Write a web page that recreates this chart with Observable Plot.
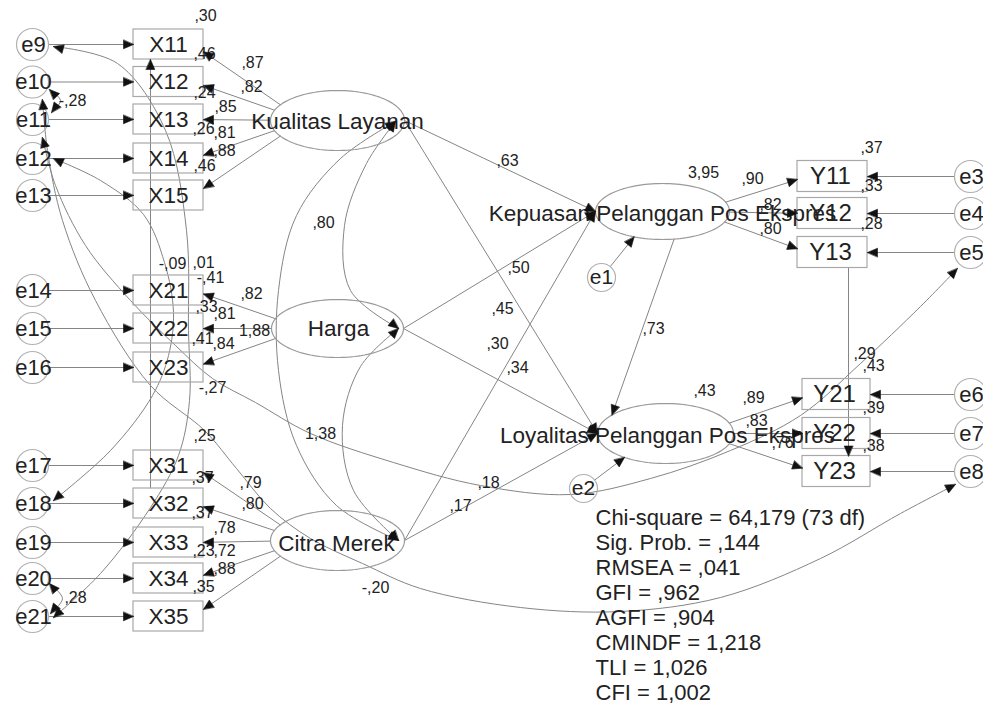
<!DOCTYPE html>
<html>
<head>
<meta charset="utf-8">
<script src="https://cdn.jsdelivr.net/npm/d3@7"></script>
<script src="https://cdn.jsdelivr.net/npm/@observablehq/plot@0.6"></script>
<style>
  html, body { margin: 0; padding: 0; background: #fff; }
  #chart svg { display: block; }
</style>
</head>
<body>
<div id="chart"></div>
<script>
// ================= DATA (values and labels) =================
const latentNames = ["Kualitas Layanan", "Harga", "Citra Merek",
  "Kepuasan Pelanggan Pos Ekspres", "Loyalitas Pelanggan Pos Ekspres"];
const klIndicators = ["X11", "X12", "X13", "X14", "X15"];
const hargaIndicators = ["X21", "X22", "X23"];
const citraIndicators = ["X31", "X32", "X33", "X34", "X35"];
const kepIndicators = ["Y11", "Y12", "Y13"];
const loyIndicators = ["Y21", "Y22", "Y23"];
const klErrors = ["e9", "e10", "e11", "e12", "e13"];
const hargaErrors = ["e14", "e15", "e16"];
const citraErrors = ["e17", "e18", "e19", "e20", "e21"];
const kepErrors = ["e3", "e4", "e5"];
const loyErrors = ["e6", "e7", "e8"];
const disturbances = ["e1", "e2"];

const klLoadings = [",87", ",82", ",85", ",81", ",88"];
const klR2 = [",30", ",46", ",24", ",26", ",46"];
const hargaLoadings = [",82", ",81", ",84"];
const hargaR2 = ["-,41", ",33", ",41"];
const citraLoadings = [",79", ",80", ",78", ",72", ",88"];
const citraR2 = [",37", ",37", ",23", ",35"];
const kepLoadings = [",90", ",82", ",80"];
const kepR2 = [",37", ",33", ",28"];
const loyLoadings = [",89", ",83", ",76"];
const loyR2 = [",43", ",39", ",38"];
const latentR2 = ["3,95", ",43"];
// KL→Kep, Harga→Kep, KL→Loy, Harga→Loy, Citra→Kep, Citra→Loy, Kep→Loy
const structuralCoefs = [",63", ",50", ",45", ",30", ",34", ",17", ",73"];
const otherCoefs = [",80", "1,38", "-,28", ",28", "-,09", ",01", "1,88", "-,27", ",25", "-,20", ",18", ",29"];
const fitStats = [
  "Chi-square = 64,179 (73 df)",
  "Sig. Prob. = ,144",
  "RMSEA = ,041",
  "GFI = ,962",
  "AGFI = ,904",
  "CMINDF = 1,218",
  "TLI = 1,026",
  "CFI = 1,002"
];

// ================= LAYOUT (positions / sizes / styles) =================
const layout = {
  width: 983, height: 706,
  xBox: {cx: 168, w: 70, h: 30},
  xBoxY: [[44, 81.5, 119, 158, 195], [290, 328, 367], [465, 503, 542, 578, 616]],
  errLeft: {cx: 32, r: 16},
  yBox: [{cx: 832, w: 70, h: 31, ys: [176, 213, 252]}, {cx: 836, w: 68, h: 31, ys: [394, 433, 471]}],
  errRight: {cx: 970, r: 16},
  latents: [
    {cx: 337, cy: 120, rx: 67, ry: 30, tx: 337, ty: 121},
    {cx: 337, cy: 328, rx: 66, ry: 29, tx: 338, ty: 328},
    {cx: 337, cy: 540, rx: 67, ry: 30, tx: 336, ty: 543},
    {cx: 662, cy: 211, rx: 67, ry: 28, tx: 662, ty: 213},
    {cx: 665, cy: 433, rx: 68, ry: 30, tx: 667, ty: 435}
  ],
  dist: [{x: 601, y: 277, r: 14}, {x: 583, y: 488, r: 14}],
  distTipAngle: [115, 127],
  structural: [[0, 3], [1, 3], [0, 4], [1, 4], [2, 3], [2, 4], [3, 4]],
  kepLoyAngles: [80, -142],
  klLoadPos: [[252, 62], [251, 86], [225, 106], [224, 132], [224, 150]],
  klR2Pos: [[205, 15], [204, 53], [204, 92], [203, 128], [204, 165]],
  hargaLoadPos: [[251, 293], [224, 313], [223, 343]],
  hargaR2Pos: [[210, 277], [206, 306], [202, 338]],
  citraLoadPos: [[250, 482], [252, 503], [224, 527], [224, 550], [224, 568]],
  citraR2Pos: [[202, 477], [202, 512], [203, 550], [203, 586]],
  kepLoadPos: [[752, 178], [770, 204], [770, 228]],
  kepR2Pos: [[871, 147], [871, 185], [871, 223]],
  loyLoadPos: [[753, 397], [756, 420], [782, 442]],
  loyR2Pos: [[873, 365], [873, 407], [873, 445]],
  latentR2Pos: [[703, 172], [704, 390]],
  structPos: [[507, 160], [518, 267], [502, 308], [497, 343], [517, 367], [460, 505], [653, 328]],
  otherPos: [[323, 222], [320, 433], [72, 100], [75, 597], [172, 263], [203, 262], [254, 330],
             [212, 387], [204, 435], [375, 587], [488, 482], [864, 353]],
  statsX: 595, statsY0: 517, statsDy: 25,
  // covariance path waypoints
  covPaths: [
    [[395, 121], [366, 163], [344, 225], [350, 290], [398, 328]],                       // KL-Harga
    [[395, 121], [340, 158], [296, 215], [278, 290], [278, 370], [296, 445], [336, 505], [398, 540]], // KL-Citra
    [[398, 328], [360, 366], [342, 425], [353, 490], [398, 540]],                       // Harga-Citra
    [[49, 89], [60, 100], [51, 112]],                                                   // e10-e11
    [[49, 583], [62, 598], [50, 613]],                                                  // e20-e21
    [[42, 99], [47, 150], [62, 220], [95, 300], [150, 385], [204, 430], [236, 468], [270, 508], [310, 538],
     [362, 563], [420, 588], [520, 607], [620, 611], [720, 597], [820, 558], [900, 513], [955, 484]], // e10-e8
    [[42, 137], [55, 185], [85, 245], [130, 300], [175, 345], [212, 378], [255, 402], [310, 433], [393, 462],
     [480, 485], [570, 494], [650, 478], [730, 450], [800, 415], [860, 363], [920, 306], [957, 268]], // e11-e5
    [[53, 158], [100, 180], [143, 214], [164, 262], [173, 312], [168, 355], [152, 395], [110, 450], [53, 500]], // e12-e18
    [[53, 46], [117, 63], [165, 130], [186, 230], [188, 330], [189, 400], [178, 455], [150, 507], [100, 573], [53, 617]] // e9-e21
  ],
  vertical: [[[150, 487.5], [150, 59]], [[848, 267.5], [848, 455.5]]],
  lineColor: "#858585", boxColor: "#a8a8a8", circleColor: "#b0b0b0", ellipseColor: "#9a9a9a",
  textColor: "#222", headColor: "#111"
};

// ================= GEOMETRY HELPERS =================
const straightRows = [], curveRows = [], headRows = [];
let nid = 0;
function head(tip, from, len = 10, hw = 4.3) {
  const id = "h" + (nid++);
  const dx = tip[0] - from[0], dy = tip[1] - from[1], d = Math.hypot(dx, dy) || 1;
  const ux = dx / d, uy = dy / d;
  const bx = tip[0] - ux * len, by = tip[1] - uy * len;
  headRows.push({id, x: tip[0], y: tip[1]},
                {id, x: bx - uy * hw, y: by + ux * hw},
                {id, x: bx + uy * hw, y: by - ux * hw});
}
function seg(a, b, headEnd = true, headStart = false) {
  const id = "s" + (nid++);
  straightRows.push({id, x: a[0], y: a[1]}, {id, x: b[0], y: b[1]});
  if (headEnd) head(b, a);
  if (headStart) head(a, b);
}
function curvePath(pts, headStart = true, headEnd = true) {
  const id = "c" + (nid++);
  pts.forEach(p => curveRows.push({id, x: p[0], y: p[1]}));
  if (headStart) head(pts[0], pts[1]);
  if (headEnd) head(pts[pts.length - 1], pts[pts.length - 2]);
}
function ellipseHit(e, fx, fy, tx, ty) {
  const dx = tx - fx, dy = ty - fy;
  const ax = (fx - e.cx) / e.rx, ay = (fy - e.cy) / e.ry, bx = dx / e.rx, by = dy / e.ry;
  const A = bx * bx + by * by, B = 2 * (ax * bx + ay * by), C = ax * ax + ay * ay - 1;
  const t = (-B + Math.sqrt(B * B - 4 * A * C)) / (2 * A);
  return [fx + t * dx, fy + t * dy];
}
function ellipseAt(e, deg) {
  const a = deg * Math.PI / 180;
  return [e.cx + e.rx * Math.cos(a), e.cy + e.ry * Math.sin(a)];
}
function circleHit(c, tx, ty) {
  const dx = tx - c.x, dy = ty - c.y, d = Math.hypot(dx, dy);
  return [c.x + dx / d * c.r, c.y + dy / d * c.r];
}
const clamp = (v, lo, hi) => Math.max(lo, Math.min(hi, v));

// ================= BUILD NODES =================
const lat = layout.latents;
const boxes = [], leftCircles = [], rightCircles = [], nodeText = [], coefText = [];

const leftGroups = [
  {li: 0, inds: klIndicators, errs: klErrors, ys: layout.xBoxY[0]},
  {li: 1, inds: hargaIndicators, errs: hargaErrors, ys: layout.xBoxY[1]},
  {li: 2, inds: citraIndicators, errs: citraErrors, ys: layout.xBoxY[2]}
];
const xb = layout.xBox, el = layout.errLeft;
leftGroups.forEach(g => {
  const e = lat[g.li];
  g.inds.forEach((name, i) => {
    const yc = g.ys[i];
    boxes.push({x1: xb.cx - xb.w / 2, x2: xb.cx + xb.w / 2, y1: yc - xb.h / 2, y2: yc + xb.h / 2});
    nodeText.push({x: xb.cx, y: yc, text: name, size: 22.5});
    leftCircles.push({x: el.cx, y: yc});
    nodeText.push({x: el.cx + 1, y: yc, text: g.errs[i], size: 22});
    const edgeX = xb.cx + xb.w / 2;
    const s = ellipseHit(e, e.cx - 37, e.cy, edgeX, yc);
    const ty = yc + clamp(0.12 * (s[1] - yc), -9, 9);
    seg(s, [edgeX, ty]);
    seg([el.cx + el.r, yc], [xb.cx - xb.w / 2, yc]);
  });
});

const rightGroups = [
  {li: 3, inds: kepIndicators, errs: kepErrors, box: layout.yBox[0]},
  {li: 4, inds: loyIndicators, errs: loyErrors, box: layout.yBox[1]}
];
const er = layout.errRight;
rightGroups.forEach(g => {
  const e = lat[g.li], b = g.box;
  g.inds.forEach((name, i) => {
    const yc = b.ys[i];
    boxes.push({x1: b.cx - b.w / 2, x2: b.cx + b.w / 2, y1: yc - b.h / 2, y2: yc + b.h / 2});
    nodeText.push({x: b.cx - 2, y: yc, text: name, size: 24});
    rightCircles.push({x: er.cx, y: yc});
    nodeText.push({x: er.cx + 1, y: yc, text: g.errs[i], size: 22});
    const edgeX = b.cx - b.w / 2;
    const s = ellipseHit(e, e.cx + 37, e.cy, edgeX, yc);
    const ty = yc + clamp(0.12 * (s[1] - yc), -9, 9);
    seg(s, [edgeX, ty]);
    seg([er.cx - er.r, yc], [b.cx + b.w / 2, yc]);
  });
});

// structural paths
layout.structural.forEach(([a, b], i) => {
  if (i === 6) {
    seg(ellipseAt(lat[a], layout.kepLoyAngles[0]), ellipseAt(lat[b], layout.kepLoyAngles[1]));
  } else {
    seg(ellipseAt(lat[a], 0), ellipseAt(lat[b], 180));
  }
});
// disturbances
layout.dist.forEach((d, i) => {
  const tip = ellipseAt(lat[3 + i], layout.distTipAngle[i]);
  seg(circleHit(d, tip[0], tip[1]), tip);
  nodeText.push({x: d.x, y: d.y, text: disturbances[i], size: 21});
});
// covariances and other paths
layout.covPaths.forEach(p => curvePath(p));
layout.vertical.forEach(([a, b]) => seg(a, b));

// ellipses
const ellipseRows = [];
lat.forEach((e, k) => {
  for (let i = 0; i < 120; i++) {
    const a = i / 120 * 2 * Math.PI;
    ellipseRows.push({id: "E" + k, x: e.cx + e.rx * Math.cos(a), y: e.cy + e.ry * Math.sin(a)});
  }
  nodeText.push({x: e.tx, y: e.ty, text: latentNames[k], size: 22.5});
});

// coefficient labels
function addLabels(vals, pos) {
  vals.forEach((t, i) => coefText.push({x: pos[i][0], y: pos[i][1], text: t}));
}
addLabels(klLoadings, layout.klLoadPos);
addLabels(klR2, layout.klR2Pos);
addLabels(hargaLoadings, layout.hargaLoadPos);
addLabels(hargaR2, layout.hargaR2Pos);
addLabels(citraLoadings, layout.citraLoadPos);
addLabels(citraR2, layout.citraR2Pos);
addLabels(kepLoadings, layout.kepLoadPos);
addLabels(kepR2, layout.kepR2Pos);
addLabels(loyLoadings, layout.loyLoadPos);
addLabels(loyR2, layout.loyR2Pos);
addLabels(latentR2, layout.latentR2Pos);
addLabels(structuralCoefs, layout.structPos);
addLabels(otherCoefs, layout.otherPos);

const statRows = fitStats.map((t, i) => ({x: layout.statsX, y: layout.statsY0 + i * layout.statsDy, text: t}));

// ================= PLOT =================
const chart = Plot.plot({
  width: layout.width,
  height: layout.height,
  margin: 0,
  x: {domain: [0, layout.width], range: [0, layout.width], axis: null},
  y: {domain: [0, layout.height], range: [0, layout.height], axis: null},
  style: {background: "#fff", fontFamily: "'Liberation Sans', Arial, Helvetica, sans-serif"},
  marks: [
    Plot.line(straightRows, {x: "x", y: "y", z: "id", stroke: layout.lineColor, strokeWidth: 1}),
    Plot.line(curveRows, {x: "x", y: "y", z: "id", curve: "catmull-rom", stroke: layout.lineColor, strokeWidth: 1}),
    Plot.line(ellipseRows, {x: "x", y: "y", z: "id", curve: "linear-closed", stroke: layout.ellipseColor, fill: "none", strokeWidth: 1.2}),
    Plot.rect(boxes, {x1: "x1", x2: "x2", y1: "y1", y2: "y2", stroke: layout.boxColor, fill: "none", strokeWidth: 1.2}),
    Plot.dot(leftCircles, {x: "x", y: "y", r: layout.errLeft.r, stroke: layout.circleColor, fill: "none", strokeWidth: 1.2}),
    Plot.dot(rightCircles, {x: "x", y: "y", r: layout.errRight.r, stroke: layout.circleColor, fill: "none", strokeWidth: 1.2}),
    Plot.dot(layout.dist, {x: "x", y: "y", r: 14, stroke: layout.circleColor, fill: "none", strokeWidth: 1.2}),
    Plot.text(nodeText, {x: "x", y: "y", text: "text", fontSize: d => d.size, fill: layout.textColor}),
    Plot.text(coefText, {x: "x", y: "y", text: "text", fontSize: 16, fill: layout.textColor}),
    Plot.text(statRows, {x: "x", y: "y", text: "text", fontSize: 22, textAnchor: "start", fill: layout.textColor}),
    Plot.line(headRows, {x: "x", y: "y", z: "id", curve: "linear-closed", fill: layout.headColor, stroke: layout.headColor, strokeWidth: 0.6})
  ]
});
document.getElementById("chart").appendChild(chart);
</script>
</body>
</html>
